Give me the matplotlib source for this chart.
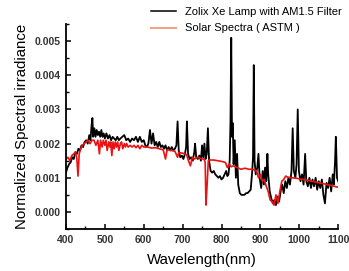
import numpy as np
import matplotlib
matplotlib.use("Agg")
import matplotlib.pyplot as plt
from matplotlib.lines import Line2D
from matplotlib.ticker import MultipleLocator, FormatStrFormatter

plt.rcParams['font.family'] = ['Liberation Sans', 'DejaVu Sans']

# values, irradiance in units of 1e-3
lamp_wl = [400, 404, 408, 412, 416, 420, 424, 428, 432, 436, 440, 444, 448, 452, 456, 460, 463, 466, 468, 470,
           473, 476, 479, 482, 485, 488, 491, 494, 497, 500, 504, 508, 512, 516, 520, 524, 528, 532, 536, 540,
           545, 550, 555, 560, 565, 570, 575, 580, 585, 590, 595, 600, 604, 608, 612, 616, 620, 624, 628, 632,
           636, 640, 644, 648, 652, 656, 660, 664, 668, 672, 676, 680, 684, 687, 690, 694, 698, 702, 706, 709,
           711, 714, 718, 722, 726, 730, 732, 735, 739, 743, 747, 750, 753, 756, 759, 762, 765, 768, 772, 776,
           780, 784, 788, 792, 796, 800, 804, 808, 812, 815, 818, 821, 823, 825, 827, 829, 831, 834, 837, 840,
           843, 847, 851, 855, 859, 863, 867, 871, 875, 879, 881, 883, 885, 888, 892, 895, 898, 902, 906, 909,
           912, 915, 918, 920, 924, 928, 932, 936, 940, 944, 948, 952, 956, 960, 964, 968, 972, 976, 980, 983,
           986, 990, 993, 996, 999, 1003, 1007, 1011, 1015, 1018, 1022, 1026, 1030, 1034, 1038, 1042, 1046, 1050,
           1054, 1058, 1062, 1066, 1070, 1074, 1078, 1082, 1086, 1089, 1092, 1094, 1097, 1100]
lamp_val = [1.15, 1.3, 1.4, 1.45, 1.6, 1.55, 1.75, 1.7, 1.85, 1.8, 1.95, 1.9, 2.05, 2.1, 2.0, 2.25, 2.1, 2.55, 2.75, 2.2,
            2.45, 2.2, 2.4, 2.25, 2.35, 2.2, 2.4, 2.2, 2.3, 2.15, 2.3, 2.15, 2.25, 2.1, 2.2, 2.15, 2.1, 2.2, 2.1, 2.15,
            2.2, 2.25, 2.1, 2.15, 2.05, 2.15, 2.1, 2.2, 2.05, 2.2, 2.05, 2.1, 1.95, 1.9, 2.0, 2.4, 2.0, 2.3, 1.95, 2.05,
            1.9, 2.05, 1.9, 1.95, 1.85, 1.95, 1.8, 1.9, 1.8, 1.9, 1.8, 1.85, 1.95, 2.65, 1.8, 1.6, 1.65, 1.55, 1.7, 1.9,
            2.65, 1.7, 1.55, 1.6, 1.5, 1.75, 2.0, 1.6, 1.55, 1.65, 1.5, 1.95, 1.6, 2.0, 1.55, 1.7, 2.45, 1.5, 1.2, 1.15,
            1.2, 1.1, 1.05, 1.0, 1.05, 0.95, 1.0, 1.1, 1.2, 1.05, 1.1, 1.5, 2.6, 5.1, 2.2, 2.6, 1.4, 2.1, 1.0, 1.7,
            0.8, 0.55, 0.5, 0.5, 0.5, 0.55, 0.55, 0.6, 0.65, 1.2, 1.6, 4.3, 1.5, 1.1, 1.3, 1.7, 1.0, 0.7, 1.2, 0.8,
            1.3, 0.9, 1.7, 1.1, 0.6, 0.4, 0.25, 0.35, 0.2, 0.45, 0.3, 0.6, 0.8, 0.55, 0.9, 0.7, 1.0, 0.8, 1.2, 2.45,
            1.2, 1.0, 1.4, 3.0, 1.2, 0.9, 1.1, 0.8, 1.7, 0.9, 0.75, 1.0, 0.7, 0.95, 0.75, 1.0, 0.65, 0.9,
            0.7, 0.95, 0.5, 0.25, 0.85, 0.7, 1.0, 0.6, 1.1, 0.8, 1.5, 2.2, 1.0, 0.9]

sun_wl = [400, 405, 410, 415, 420, 425, 428, 431, 434, 438, 442, 447, 452, 457, 462, 467, 472, 477, 482, 486,
          489, 493, 496, 500, 503, 506, 510, 513, 515, 518, 521, 524, 527, 530, 533, 536, 540, 543, 546, 550,
          553, 556, 560, 565, 570, 575, 580, 585, 590, 595, 600, 610, 620, 630, 640, 650, 656, 660, 670, 680,
          687, 690, 700, 710, 715, 720, 725, 730, 740, 750, 755, 758, 760, 763, 766, 770, 780, 790, 800, 810,
          815, 820, 825, 830, 840, 850, 860, 870, 880, 890, 895, 900, 905, 910, 915, 920, 925, 930, 935, 940,
          945, 950, 955, 960, 965, 970, 980, 990, 1000, 1020, 1040, 1060, 1080, 1100]
sun_val = [1.55, 1.6, 1.5, 1.65, 1.7, 1.75, 1.55, 1.05, 1.7, 1.85, 1.95, 2.0, 2.05, 2.1, 2.0, 2.1, 2.1, 1.95, 2.1, 1.7,
           2.1, 1.9, 2.1, 1.95, 2.1, 1.8, 2.05, 1.9, 2.05, 1.65, 2.05, 1.85, 2.05, 1.9, 2.05, 1.8, 2.0, 2.05, 1.85, 2.0,
           1.9, 2.0, 1.9, 1.95, 1.9, 1.95, 1.88, 1.95, 1.85, 1.95, 1.9, 1.9, 1.87, 1.88, 1.85, 1.82, 1.55, 1.82, 1.8, 1.78,
           1.6, 1.74, 1.72, 1.68, 1.5, 1.35, 1.6, 1.55, 1.6, 1.55, 1.55, 1.45, 0.2, 0.8, 1.5, 1.52, 1.52, 1.5, 1.48, 1.45,
           1.3, 1.4, 1.32, 1.35, 1.3, 1.25, 1.28, 1.25, 1.25, 1.2, 1.0, 1.1, 0.9, 0.95, 0.75, 0.6, 0.35, 0.3, 0.2, 0.5,
           0.25, 0.6, 0.9, 0.95, 1.05, 1.02, 1.0, 0.99, 0.97, 0.93, 0.88, 0.83, 0.78, 0.72]

lamp_label = "Zolix Xe Lamp with AM1.5 Filter"
sun_label = "Solar Spectra ( ASTM )"

fig = plt.figure(figsize=(3.49, 2.71), dpi=100)
ax = fig.add_axes([0.189, 0.155, 0.78, 0.756])

ax.plot(lamp_wl, np.array(lamp_val) * 1e-3, color='black', lw=1.3)
ax.plot(sun_wl, np.array(sun_val) * 1e-3, color='#ee1111', lw=1.2)

ax.set_xlim(400, 1100)
ax.set_ylim(-0.0005, 0.0055)
ax.xaxis.set_major_locator(MultipleLocator(100))
ax.xaxis.set_minor_locator(MultipleLocator(50))
ax.yaxis.set_major_locator(MultipleLocator(0.001))
ax.yaxis.set_minor_locator(MultipleLocator(0.0005))
ax.yaxis.set_major_formatter(FormatStrFormatter('%.3f'))
ax.set_yticks([0, 0.001, 0.002, 0.003, 0.004, 0.005])

for s in ['top', 'right']:
    ax.spines[s].set_visible(False)
for s in ['left', 'bottom']:
    ax.spines[s].set_linewidth(1.3)

ax.tick_params(which='major', direction='in', length=3.5, width=1.1, labelsize=7.5, pad=4, labelcolor='#333333')
ax.tick_params(which='minor', direction='in', length=2, width=1.0)
for lab in ax.get_xticklabels() + ax.get_yticklabels():
    lab.set_fontweight('bold')

ax.set_xlabel("Wavelength(nm)", fontsize=10.8, labelpad=6)
ax.set_ylabel("Normalized Spectral irradiance", fontsize=10.8, labelpad=4)

handles = [Line2D([], [], color='black', lw=1.1), Line2D([], [], color='#f4a07c', lw=1.4)]
fig.legend(handles, [lamp_label, sun_label], loc='upper left', bbox_to_anchor=(0.405, 1.01),
           frameon=False, fontsize=8, handlelength=2.2, handletextpad=0.8, labelspacing=0.55)

fig.savefig("out.png", dpi=100)
